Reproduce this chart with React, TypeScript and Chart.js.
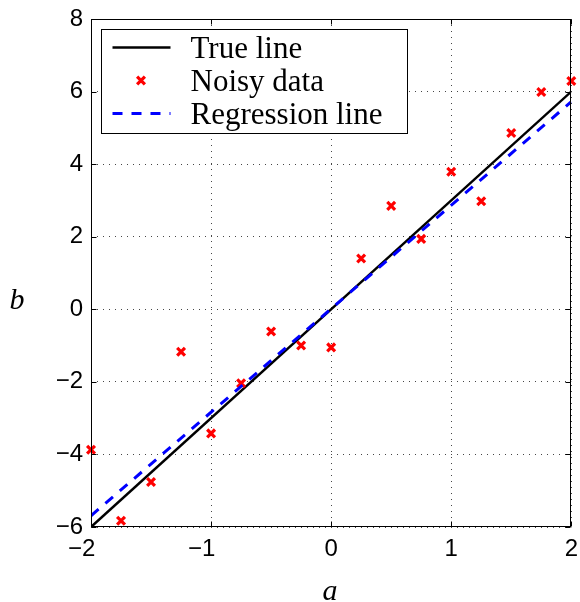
import React, { useEffect, useRef } from "react";
import { Chart, registerables } from "chart.js";

Chart.register(...registerables);

// ---- data ----
const noisyX = [-2, -1.75, -1.5, -1.25, -1, -0.75, -0.5, -0.25, 0, 0.25, 0.5, 0.75, 1, 1.25, 1.5, 1.75, 2];
const noisyY = [-3.87, -5.83, -4.76, -1.17, -3.42, -2.04, -0.61, -1.0, -1.05, 1.4, 2.85, 1.94, 3.79, 2.98, 4.86, 5.99, 6.29];
const trueLineX = [-2, 2];
const trueLineY = [-6, 6];
const regressionX = [-2, 2];
const regressionY = [-5.69, 5.72];
const seriesLabels = ["True line", "Noisy data", "Regression line"];
const xTickValues = [-2, -1, 0, 1, 2];
const yTickValues = [-6, -4, -2, 0, 2, 4, 6, 8];
const xAxisTitle = "a";
const yAxisTitle = "b";

const fmt = (v: number) => (v < 0 ? "\u2212" + Math.abs(v) : String(v));
const toPts = (xs: number[], ys: number[]) => xs.map((x, i) => ({ x, y: ys[i] }));

const decorPlugin = {
  id: "decor",
  afterDatasetsDraw(chart: any) {
    const { ctx, chartArea } = chart;
    const { left, top, right, bottom } = chartArea;
    const xs = chart.scales.x;
    const ys = chart.scales.y;
    ctx.save();
    // frame
    ctx.strokeStyle = "#000";
    ctx.lineWidth = 1;
    ctx.setLineDash([]);
    const L = Math.round(left) + 0.5;
    const R = Math.round(right) - 0.5;
    const T = Math.round(top) + 0.5;
    const B = Math.round(bottom) - 0.5;
    ctx.strokeRect(L, T, R - L, B - T);
    // inward ticks
    const tl = 5;
    ctx.beginPath();
    xTickValues.forEach((v) => {
      const px = Math.round(xs.getPixelForValue(v)) + 0.5;
      ctx.moveTo(px, B);
      ctx.lineTo(px, B - tl);
      ctx.moveTo(px, T);
      ctx.lineTo(px, T + tl);
    });
    yTickValues.forEach((v) => {
      const py = Math.round(ys.getPixelForValue(v)) + 0.5;
      ctx.moveTo(L, py);
      ctx.lineTo(L + tl, py);
      ctx.moveTo(R, py);
      ctx.lineTo(R - tl, py);
    });
    ctx.stroke();

    // legend
    const bx = L + 10;
    const by = T + 10;
    const bw = 306;
    const bh = 104;
    ctx.fillStyle = "#fff";
    ctx.fillRect(bx, by, bw, bh);
    ctx.strokeStyle = "#000";
    ctx.lineWidth = 1;
    ctx.strokeRect(bx, by, bw, bh);
    const rowYs = [by + 18, by + 51, by + 84];
    ctx.font = "31px 'Liberation Serif'";
    ctx.textAlign = "left";
    ctx.textBaseline = "alphabetic";
    chart.data.datasets.forEach((ds: any, i: number) => {
      const ry = rowYs[i];
      if (ds.showLine) {
        ctx.save();
        ctx.strokeStyle = ds.borderColor;
        ctx.lineWidth = ds.borderWidth;
        ctx.setLineDash(ds.borderDash || []);
        ctx.beginPath();
        ctx.moveTo(bx + 11, ry);
        ctx.lineTo(bx + 69, ry);
        ctx.stroke();
        ctx.restore();
      } else {
        const cx = bx + 39.5;
        const r = ds.pointRadius * Math.SQRT1_2;
        ctx.save();
        ctx.strokeStyle = ds.borderColor;
        ctx.lineWidth = ds.borderWidth;
        ctx.beginPath();
        ctx.moveTo(cx - r, ry - r);
        ctx.lineTo(cx + r, ry + r);
        ctx.moveTo(cx - r, ry + r);
        ctx.lineTo(cx + r, ry - r);
        ctx.stroke();
        ctx.restore();
      }
      ctx.fillStyle = "#000";
      ctx.fillText(ds.label, bx + 89, ry + 10);
    });

    // axis titles
    ctx.font = "italic 30px 'Liberation Serif'";
    ctx.textAlign = "center";
    ctx.fillStyle = "#000";
    ctx.fillText(xAxisTitle, (L + R) / 2 - 1, 600);
    ctx.fillText(yAxisTitle, 17, 309);
    ctx.restore();
  },
};

export default function App() {
  const ref = useRef<HTMLCanvasElement | null>(null);

  useEffect(() => {
    document.body.style.margin = "0";
    const canvas = ref.current;
    if (!canvas) return;
    const gridColor = "rgba(50,50,50,0.9)";
    const chart = new Chart(canvas, {
      type: "scatter",
      data: {
        datasets: [
          {
            label: seriesLabels[0],
            data: toPts(trueLineX, trueLineY),
            showLine: true,
            borderColor: "#000000",
            backgroundColor: "#000000",
            borderWidth: 2.5,
            pointRadius: 0,
            order: 3,
          } as any,
          {
            label: seriesLabels[1],
            data: toPts(noisyX, noisyY),
            showLine: false,
            pointStyle: "crossRot",
            pointRadius: 5.5,
            borderColor: "#ff0000",
            backgroundColor: "#ff0000",
            borderWidth: 3.2,
            clip: false,
            order: 2,
          } as any,
          {
            label: seriesLabels[2],
            data: toPts(regressionX, regressionY),
            showLine: true,
            borderColor: "#0000ff",
            backgroundColor: "#0000ff",
            borderWidth: 3,
            borderDash: [10, 9],
            pointRadius: 0,
            order: 1,
          } as any,
        ],
      },
      options: {
        responsive: false,
        animation: false,
        devicePixelRatio: 1,
        layout: { padding: { left: 0, right: 5, top: 19, bottom: 0 } },
        plugins: {
          legend: { display: false },
          tooltip: { enabled: false },
        },
        scales: {
          x: {
            type: "linear",
            min: -2,
            max: 2,
            afterBuildTicks: (s: any) => {
              s.ticks = xTickValues.map((v) => ({ value: v }));
            },
            afterFit: (s: any) => {
              s.height = 75;
              s.paddingLeft = 0;
              s.paddingRight = 0;
            },
            ticks: {
              font: { family: "'Liberation Sans'", size: 24 },
              color: "#000",
              padding: 8,
              maxRotation: 0,
              autoSkip: false,
              callback: (v: any) => (Number(v) < 0 ? fmt(Number(v)) + "\u2002 " : fmt(Number(v))),
            },
            grid: { color: gridColor, lineWidth: 1, drawTicks: false, borderDash: [1, 5] } as any,
            border: { display: false, dash: [1, 5] },
          },
          y: {
            type: "linear",
            min: -6,
            max: 8,
            afterBuildTicks: (s: any) => {
              s.ticks = yTickValues.map((v) => ({ value: v }));
            },
            afterFit: (s: any) => {
              s.width = 91;
              s.paddingTop = 0;
              s.paddingBottom = 0;
            },
            ticks: {
              font: { family: "'Liberation Sans'", size: 24 },
              color: "#000",
              padding: 8,
              autoSkip: false,
              callback: (v: any) => fmt(Number(v)),
            },
            grid: { color: gridColor, lineWidth: 1, drawTicks: false, borderDash: [1, 5] } as any,
            border: { display: false, dash: [1, 5] },
          },
        },
      } as any,
      plugins: [decorPlugin],
    });
    return () => chart.destroy();
  }, []);

  return (
    <div style={{ width: 580, height: 602 }}>
      <canvas ref={ref} width={580} height={602} style={{ display: "block" }} />
    </div>
  );
}
